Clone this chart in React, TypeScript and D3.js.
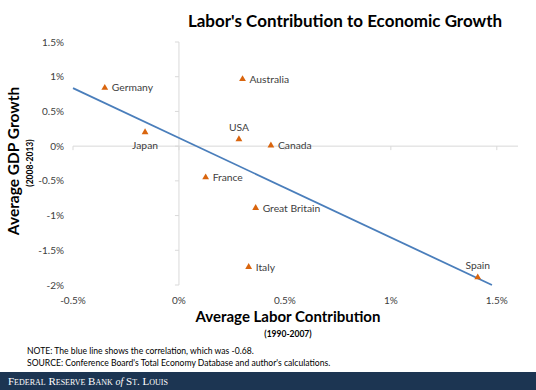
import React from "react";
import * as d3 from "d3";

const countries = ["Germany", "Japan", "Australia", "USA", "Canada", "France", "Great Britain", "Italy", "Spain"];
const laborContribution = [-0.35, -0.16, 0.30, 0.283, 0.434, 0.126, 0.362, 0.329, 1.41];
const gdpGrowth = [0.84, 0.20, 0.965, 0.10, 0.01, -0.45, -0.89, -1.74, -1.89];
// label placement: "right" | "above" | "below"
const labelPos = ["right", "below", "right", "above", "right", "right", "right", "right", "above"];
const xTicks = [-0.5, 0, 0.5, 1, 1.5];
const yTicks = [1.5, 1, 0.5, 0, -0.5, -1, -1.5, -2];

const W = 536, H = 390;
const FONT = "Lato, 'Open Sans', sans-serif";

export default function App() {
  const x = d3.scaleLinear().domain([-0.5, 1.6]).range([73, 518]);
  const y = d3.scaleLinear().domain([-2, 1.5]).range([285, 42]);

  // least-squares fit
  const mx = d3.mean(laborContribution) as number;
  const my = d3.mean(gdpGrowth) as number;
  let sxy = 0, sxx = 0;
  laborContribution.forEach((v, i) => { sxy += (v - mx) * (gdpGrowth[i] - my); sxx += (v - mx) * (v - mx); });
  const slope = sxy / sxx;
  const intercept = my - slope * mx;
  const xEnd = Math.min(1.6, (-2 - intercept) / slope);
  const line = d3.line<number>().x(d => x(d)).y(d => y(intercept + slope * d));
  const tri = d3.symbol().type(d3.symbolTriangle).size(20)() as string;

  const fmt = (v: number) => `${v}%`;
  const axisColor = "#d9d9d9";
  const textColor = "#404040";

  return (
    <svg width={W} height={H} style={{ position: "absolute", left: 0, top: 0, background: "#fff" }} fontFamily={FONT}>
      <text x={345} y={27} textAnchor="middle" fontSize={17} fontWeight={700} fill="#000">Labor's Contribution to Economic Growth</text>

      {/* axes */}
      <line x1={x(-0.5)} x2={x(1.6)} y1={y(0)} y2={y(0)} stroke={axisColor} strokeWidth={1} />
      <line x1={x(0)} x2={x(0)} y1={y(1.5)} y2={y(-2)} stroke={axisColor} strokeWidth={1} />
      {yTicks.map(t => (
        <g key={"yt" + t}>
          <line x1={x(0) - 4} x2={x(0)} y1={y(t)} y2={y(t)} stroke={axisColor} />
          <text x={64} y={y(t)} dy="0.35em" textAnchor="end" fontSize={10} fill={textColor}>{fmt(t)}</text>
        </g>
      ))}
      {xTicks.map(t => (
        <g key={"xt" + t}>
          <line x1={x(t)} x2={x(t)} y1={y(0)} y2={y(0) + 4} stroke={axisColor} />
          <text x={x(t)} y={300} dy="0.35em" textAnchor="middle" fontSize={10} fill={textColor}>{fmt(t)}</text>
        </g>
      ))}

      {/* trend line */}
      <path d={line([-0.5, xEnd]) as string} fill="none" stroke="#4a7ebb" strokeWidth={1.8} />

      {/* points */}
      {countries.map((c, i) => {
        const px = x(laborContribution[i]);
        const py = y(gdpGrowth[i]);
        const pos = labelPos[i];
        let lx = px + 7, ly = py, anchor = "start";
        if (pos === "above") { lx = px; ly = py - 12; anchor = "middle"; }
        if (pos === "below") { lx = px; ly = py + 13; anchor = "middle"; }
        return (
          <g key={c}>
            <path d={tri} transform={`translate(${px},${py})`} fill="#d9650e" />
            <text x={lx} y={ly} dy="0.35em" textAnchor={anchor} fontSize={10.3} fill={textColor}>{c}</text>
          </g>
        );
      })}

      {/* axis titles */}
      <text transform={`translate(19,161) rotate(-90)`} textAnchor="middle" fontSize={15.5} fontWeight={700} fill="#000">Average GDP Growth</text>
      <text transform={`translate(33,163) rotate(-90)`} textAnchor="middle" fontSize={8.5} fontWeight={700} fill="#000">(2008-2013)</text>
      <text x={288} y={322} textAnchor="middle" fontSize={15} fontWeight={700} fill="#000">Average Labor Contribution</text>
      <text x={288} y={337} textAnchor="middle" fontSize={8.5} fontWeight={700} fill="#000">(1990-2007)</text>

      <text x={27} y={354} fontSize={8.6} fill="#000">NOTE: The blue line shows the correlation, which was -0.68.</text>
      <text x={27} y={366} fontSize={8.6} fill="#000">SOURCE: Conference Board's Total Economy Database and author's calculations.</text>

      {/* footer */}
      <rect x={0} y={372} width={W} height={18} fill="#1c3552" />
      <text x={8} y={385} fontSize={11} fill="#fff" fontFamily="'Liberation Serif', serif" style={{ fontVariant: "small-caps" }}>
        Federal Reserve Bank <tspan fontStyle="italic" fontSize={10} style={{ fontVariant: "normal" }}>of</tspan> St. Louis
      </text>
    </svg>
  );
}
